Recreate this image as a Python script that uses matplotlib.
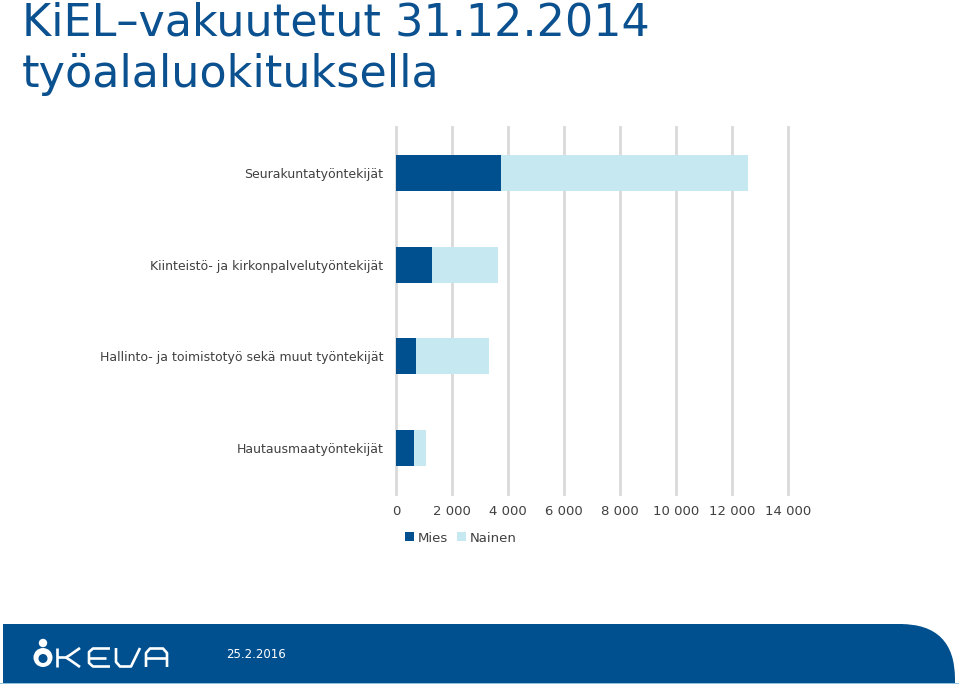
import matplotlib
matplotlib.use("Agg")
import matplotlib.pyplot as plt
from matplotlib.patches import FancyBboxPatch, Rectangle, Circle
from matplotlib.ticker import FuncFormatter

categories = ["Seurakuntatyöntekijät",
              "Kiinteistö- ja kirkonpalvelutyöntekijät",
              "Hallinto- ja toimistotyö sekä muut työntekijät",
              "Hautausmaatyöntekijät"]
mies = [3740, 1300, 710, 655]
nainen = [8840, 2330, 2610, 405]
xticks = [0, 2000, 4000, 6000, 8000, 10000, 12000, 14000]

DARK = "#00508f"
LIGHT = "#c6e9f1"
TEXT = "#404040"

plt.rcParams['font.family'] = ['DejaVu Sans']
fig = plt.figure(figsize=(9.59, 6.84), dpi=100)

ax = fig.add_axes([396/959, 1-494/684, (788-396)/959, (494-127)/684])
y = list(range(len(categories)))
ax.barh(y, mies, height=0.39, color=DARK, label="Mies", zorder=3)
ax.barh(y, nainen, left=mies, height=0.39, color=LIGHT, label="Nainen", zorder=3)
ax.set_ylim(len(categories)-0.5, -0.5)
ax.set_xlim(0, 14000)
ax.set_xticks(xticks)
ax.xaxis.set_major_formatter(FuncFormatter(lambda v, p: f"{int(v):,}".replace(",", " ")))
ax.set_yticks(y)
ax.set_yticklabels(categories)
for s in ax.spines.values():
    s.set_visible(False)
ax.tick_params(axis='x', length=0, labelsize=9.5, colors=TEXT, pad=8)
ax.tick_params(axis='y', length=0, labelsize=9, colors=TEXT, pad=9)
ax.grid(axis='x', color="#d9d9d9", linewidth=2, zorder=0)
for gl in ax.get_xgridlines():
    gl.set_clip_on(False)
ax.set_axisbelow(True)

leg = fig.legend(loc='center', bbox_to_anchor=(461/959, 1-538/684), ncol=2, frameon=False,
                 fontsize=9.5, handlelength=0.65, handleheight=0.65, handletextpad=0.3,
                 columnspacing=0.7, labelcolor=TEXT)

fig.text(22/959, 1-35/684, "KiEL–vakuutetut 31.12.2014", fontsize=32, color="#0b5190",
         ha='left', va='baseline')
fig.text(22/959, 1-87/684, "työalaluokituksella", fontsize=32, color="#0b5190",
         ha='left', va='baseline')

# footer band
W, H = 959, 684
fa = fig.add_axes([0, 0, 1, 1], zorder=-1)
fa.set_xlim(0, W); fa.set_ylim(H, 0); fa.axis('off')
fa.add_patch(Rectangle((3, 624), 900, 60, color=DARK, lw=0))
fa.add_patch(FancyBboxPatch((3, 624), 952, 120, boxstyle="round,pad=0,rounding_size=55",
                            color=DARK, lw=0))
fa.add_patch(Rectangle((0, 684-1.5), W, 1.5, color="#8fc3e0", lw=0))
fa.set_xlim(0, W); fa.set_ylim(H, 0)
fa.add_patch(Circle((43, 643), 4.2, color="white", lw=0))
fa.add_patch(Circle((43, 657.5), 9.5, color="white", lw=0))
fa.add_patch(Circle((43, 658.5), 4.5, color=DARK, lw=0))
# KEVA wordmark
lk = dict(color="white", lw=1.9, solid_capstyle='butt', solid_joinstyle='round')
fa.plot([57, 57], [648, 667], **lk)
fa.plot([80, 70, 66, 57], [648, 655, 657.5, 657.5], **lk)
fa.plot([66, 70, 80], [657.5, 660, 667], **lk)
fa.plot([110, 93, 89, 89, 93, 110], [648.5, 648.5, 652, 663, 666.5, 666.5], **lk)
fa.plot([89, 106], [657.5, 657.5], **lk)
fa.plot([116, 116, 120, 131, 140], [648, 662, 666.5, 666.5, 648], **lk)
fa.plot([146, 146, 150, 163, 167, 167], [667, 653, 648.5, 648.5, 653, 667], **lk)
fa.plot([146, 167], [658, 658], **lk)
fig.text(226/959, 1-655/684, "25.2.2016", fontsize=8.5, color="white", ha='left', va='center')

fig.savefig("out.png", dpi=100)
